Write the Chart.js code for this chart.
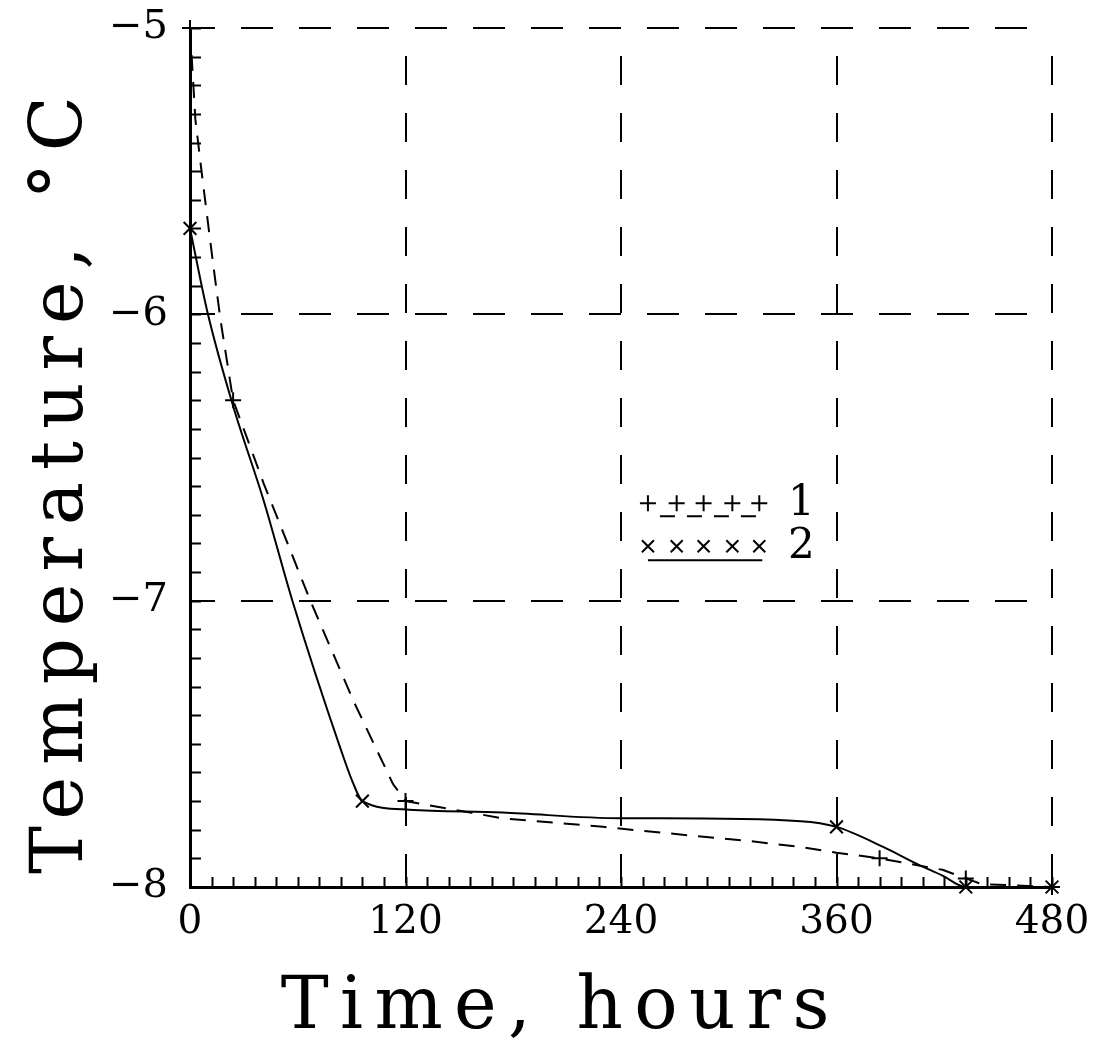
<!DOCTYPE html>
<html>
<head>
<meta charset="utf-8">
<script src="https://cdn.jsdelivr.net/npm/chart.js@4"></script>
<style>
  body { margin: 0; background: #fff; }
  #wrap { width: 1097px; height: 1040px; }
</style>
</head>
<body>
<div id="wrap"><canvas id="temp_chart"></canvas></div>
<script>
// curve 1 (dashed, "+" marks)
var hours1 = [0, 3, 7, 13, 17, 24, 41, 67, 91, 113, 120, 156, 174, 230, 262, 312, 340, 360, 384, 419, 432, 441, 480];
var temp1  = [-5.0, -5.32, -5.53, -5.83, -6.02, -6.30, -6.59, -7.0, -7.35, -7.64, -7.70, -7.74, -7.76, -7.79, -7.81, -7.84, -7.86, -7.88, -7.90, -7.94, -7.97, -7.99, -8.0];
var marks1 = [0, 24, 120, 384, 432, 480];

// curve 2 (solid, "x" marks)
var hours2 = [0, 10, 24, 41, 57, 84, 91, 96, 122, 174, 240, 262, 340, 360, 386, 405, 419, 432, 480];
var temp2  = [-5.70, -6.0, -6.32, -6.65, -7.0, -7.52, -7.64, -7.70, -7.73, -7.74, -7.76, -7.76, -7.77, -7.79, -7.86, -7.92, -7.96, -8.0, -8.0];
var marks2 = [0, 96, 360, 432, 480];

var xTicks = [0, 120, 240, 360, 480];
var yTicks = [-8, -7, -6, -5];
var legendLabels = ["1", "2"];

var FONT = "'DejaVu Serif', 'Liberation Serif', serif";

function points(xs, ys) {
  var out = [];
  for (var i = 0; i < xs.length; i++) out.push({x: xs[i], y: ys[i]});
  return out;
}

// draw text stretched to a given total width with letter spacing
function spacedText(ctx, str, cx, y, width) {
  ctx.letterSpacing = '0px';
  var w = ctx.measureText(str).width;
  var sp = (width - w) / str.length;
  ctx.letterSpacing = sp + 'px';
  ctx.fillText(str, cx + sp / 2, y);
  ctx.letterSpacing = '0px';
}

// small inward ticks + axis titles + legend
var extras = {
  id: 'extras',
  afterDraw(chart) {
    var ctx = chart.ctx;
    var a = chart.chartArea;
    var xs = chart.scales.x, ys = chart.scales.y;
    ctx.save();
    ctx.strokeStyle = '#000';
    ctx.lineWidth = 2;
    ctx.beginPath();
    for (var v = -80; v <= -50; v++) {
      var py = Math.round(ys.getPixelForValue(v / 10)) + 0.5;
      ctx.moveTo(a.left, py); ctx.lineTo(a.left + 11, py);
    }
    for (var h = 0; h <= 480; h += 12) {
      var px = Math.round(xs.getPixelForValue(h)) + 0.5;
      ctx.moveTo(px, a.bottom); ctx.lineTo(px, a.bottom - 10);
    }
    ctx.stroke();

    // axis titles
    ctx.fillStyle = '#000';
    ctx.font = '72px ' + FONT;
    ctx.textAlign = 'center';
    ctx.textBaseline = 'alphabetic';
    spacedText(ctx, 'Time, hours', 555, 1028, 560);
    ctx.save();
    ctx.translate(82, 485);
    ctx.rotate(-Math.PI / 2);
    spacedText(ctx, 'Temperature, \u00B0C', 0, 0, 790);
    ctx.restore();

    // legend
    var lx = [255, 271, 286, 302, 317].map(function (h) { return xs.getPixelForValue(h); });
    var r1 = ys.getPixelForValue(-6.66), r2 = ys.getPixelForValue(-6.81);
    ctx.lineWidth = 2;
    ctx.beginPath();
    lx.forEach(function (x) {
      ctx.moveTo(x - 8, r1); ctx.lineTo(x + 8, r1);
      ctx.moveTo(x, r1 - 8); ctx.lineTo(x, r1 + 8);
      ctx.moveTo(x - 6, r2 - 6); ctx.lineTo(x + 6, r2 + 6);
      ctx.moveTo(x + 6, r2 - 6); ctx.lineTo(x - 6, r2 + 6);
    });
    ctx.stroke();
    ctx.beginPath();
    ctx.setLineDash([15, 12]);
    ctx.lineDashOffset = -12;
    ctx.moveTo(lx[0], r1 + 13); ctx.lineTo(lx[4] + 2, r1 + 13);
    ctx.stroke();
    ctx.setLineDash([]);
    ctx.beginPath();
    ctx.moveTo(lx[0], r2 + 14); ctx.lineTo(lx[4] + 3, r2 + 14);
    ctx.stroke();
    ctx.font = '42px ' + FONT;
    ctx.textAlign = 'center';
    ctx.textBaseline = 'middle';
    ctx.fillText(legendLabels[0], lx[4] + 42, r1 + 1);
    ctx.fillText(legendLabels[1], lx[4] + 42, r2 + 1);
    ctx.restore();
  }
};

new Chart(document.getElementById('temp_chart'), {
  type: 'line',
  data: {
    datasets: [
      {
        label: '1',
        data: points(hours1, temp1),
        borderColor: '#000',
        borderWidth: 2,
        borderDash: [16, 11],
        pointStyle: 'cross',
        pointBorderColor: '#000',
        pointBorderWidth: 2,
        pointRadius: function (c) { return marks1.indexOf(hours1[c.dataIndex]) >= 0 ? 8 : 0; },
        tension: 0,
        clip: false
      },
      {
        label: '2',
        data: points(hours2, temp2),
        borderColor: '#000',
        borderWidth: 2,
        pointStyle: 'crossRot',
        pointBorderColor: '#000',
        pointBorderWidth: 2,
        pointRadius: function (c) { return marks2.indexOf(hours2[c.dataIndex]) >= 0 ? 9 : 0; },
        cubicInterpolationMode: 'monotone',
        clip: false
      }
    ]
  },
  options: {
    responsive: true,
    maintainAspectRatio: false,
    animation: false,
    events: [],
    layout: { padding: { top: 28, right: 45, left: 0, bottom: 0 } },
    plugins: { legend: { display: false }, tooltip: { enabled: false } },
    scales: {
      x: {
        type: 'linear',
        min: 0, max: 480,
        afterFit: function (s) { s.height = 153; s.paddingLeft = 0; s.paddingRight = 0; },
        afterBuildTicks: function (s) { s.ticks = xTicks.map(function (v) { return {value: v}; }); },
        ticks: {
          padding: 12,
          color: '#000',
          font: { family: FONT, size: 39 }
        },
        grid: {
          drawTicks: false,
          lineWidth: 2,
          color: function (c) { return c.tick && c.tick.value === 0 ? 'rgba(0,0,0,0)' : '#000'; }
        },
        border: { display: true, color: '#000', width: 3, dash: [29, 28], dashOffset: 29 }
      },
      y: {
        type: 'linear',
        min: -8, max: -5,
        afterFit: function (s) { s.width = 190; s.paddingTop = 0; s.paddingBottom = 0; },
        afterBuildTicks: function (s) { s.ticks = yTicks.map(function (v) { return {value: v}; }); },
        ticks: {
          padding: 22,
          color: '#000',
          font: { family: FONT, size: 40 },
          callback: function (v) { return '\u2212' + Math.abs(v); }
        },
        grid: {
          drawTicks: false,
          lineWidth: 2,
          color: function (c) { return c.tick && c.tick.value === -8 ? 'rgba(0,0,0,0)' : '#000'; }
        },
        border: { display: true, color: '#000', width: 3, dash: [32, 26], dashOffset: 9 }
      }
    }
  },
  plugins: [extras]
});
</script>
</body>
</html>
